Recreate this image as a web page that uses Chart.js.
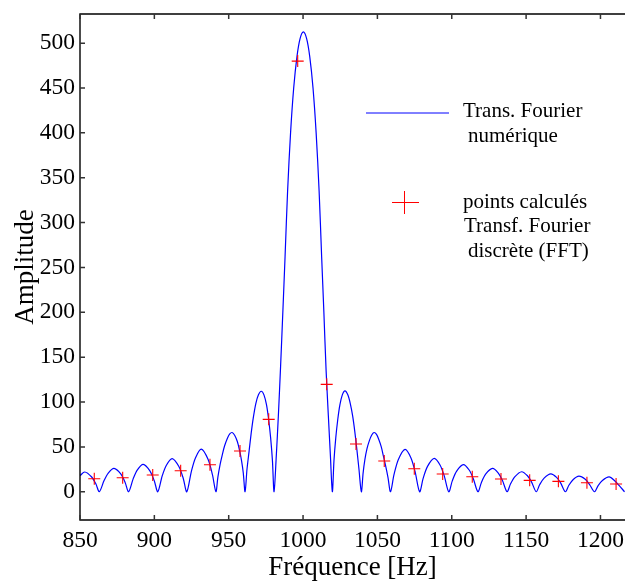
<!DOCTYPE html>
<html>
<head>
<meta charset="utf-8">
<script src="https://cdn.jsdelivr.net/npm/chart.js@4.4.1/dist/chart.umd.min.js"></script>
<style>
  html, body { margin: 0; padding: 0; background: #fff; }
  #wrap { width: 625px; height: 581px; }
</style>
</head>
<body>
<div id="wrap"><canvas id="spectre" width="625" height="581"></canvas></div>
<script>
// Transformée de Fourier numérique (courbe continue)
const freqTF = [
  850, 853.2, 857.7, 860.65, 863.0,
  866.2, 869.0, 872.9, 877.4, 880.35, 882.7,
  885.8, 888.6, 892.5, 897.0, 899.95, 902.3,
  905.3, 908.1, 912.0, 916.5, 919.45, 921.8,
  924.9, 927.7, 931.6, 936.1, 939.05, 941.4,
  942.7, 944.3, 945.8, 947.2, 949.2, 950.7, 952.3, 954.0, 955.8, 957.3, 958.6, 959.8, 961.0,
  962.3, 963.7, 965.1, 966.5, 968.2, 970.0, 971.9, 973.7, 975.4, 976.9, 978.2, 979.4, 980.5,
  982, 983.4, 984.9, 986.4, 987.9, 989.6, 991.6, 993.7, 995.9, 998, 1000.2,
  1002.4, 1004.5, 1006.7, 1008.8, 1010.8, 1012.5, 1014.0, 1015.5, 1017.0, 1018.4, 1019.7,
  1020.8, 1022.0, 1023.3, 1024.8, 1026.4, 1028.2, 1030.1, 1031.8, 1033.4, 1034.8, 1036.2, 1037.6, 1039.2,
  1040.4, 1041.6, 1043.0, 1044.6, 1046.1, 1047.7, 1049.4, 1051.0, 1052.6, 1054.0, 1055.5, 1057.1, 1058.8,
  1061.15, 1064.1, 1068.6, 1072.5, 1075.3, 1078.4,
  1080.75, 1083.7, 1088.2, 1092.1, 1094.9, 1098.0,
  1100.35, 1103.3, 1107.8, 1111.7, 1114.5, 1117.6,
  1119.95, 1122.9, 1127.4, 1131.3, 1134.1, 1137.2,
  1139.55, 1142.5, 1147.0, 1150.9, 1153.7, 1156.8,
  1159.15, 1162.1, 1166.6, 1170.5, 1173.3, 1176.4,
  1178.75, 1181.7, 1185.5, 1189.8, 1192.7, 1196.0,
  1198.35, 1201.3, 1205.8, 1209.7, 1212.5, 1216.2
];
const ampTF = [
  18, 22, 16.7, 8.8, 0,
  12.5, 20.8, 26, 19.8, 10.4, 0,
  14.6, 24.4, 30.5, 23.2, 12.2, 0,
  17.8, 29.6, 37, 28.1, 14.8, 0,
  22.8, 38, 47.5, 36.1, 19, 0,
  16, 31, 42, 51, 60, 64.5, 66, 63, 56, 46, 35, 21, 0,
  25, 45, 65, 82, 98, 108, 112, 108, 97, 80, 60, 35, 0,
  40, 85, 140, 200, 262, 335, 400, 450, 485, 505, 512.5,
  505, 485, 450, 400, 335, 262, 200, 135, 85, 40, 0,
  35, 60, 80, 97, 108, 112.5, 108, 98, 84, 67, 47, 25, 0,
  21, 36, 48, 57, 63, 66, 64, 58, 50, 40, 29, 16, 0,
  19, 36, 47.3, 38, 22.7, 0,
  14.9, 28.3, 37.2, 29.8, 17.9, 0,
  12.1, 23, 30.2, 24.2, 14.5, 0,
  10.4, 19.8, 26, 20.8, 12.5, 0,
  8.9, 16.9, 22.3, 17.8, 10.7, 0,
  8, 15.2, 20, 16, 9.6, 0,
  7.2, 13.7, 17.5, 14, 8, 0,
  6.6, 12.5, 16.5, 12, 7, 0
];

// points calculés par FFT
const freqFFT = [859.6, 878.7, 898.9, 917.7, 937.4, 957.6, 976.9, 996.4, 1015.9, 1035.6,
  1054.6, 1074.8, 1093.9, 1113.8, 1133.1, 1152.4, 1171.7, 1190.9, 1210.5];
const ampFFT = [14.5, 15.6, 18.6, 23.4, 30.1, 45.4, 80.7, 480, 119.7, 53.2,
  34.2, 25.6, 19.7, 16.7, 14.2, 12.7, 11.6, 10.0, 8.6];

const xTicks = [850, 900, 950, 1000, 1050, 1100, 1150, 1200];
const yTicks = [0, 50, 100, 150, 200, 250, 300, 350, 400, 450, 500];

const legendLine = ["Trans. Fourier", "numérique"];
const legendPts = ["points calculés", "Transf. Fourier", "discrète (FFT)"];

const serif = "'Liberation Serif', 'Times New Roman', Times, serif";

// cadre façon Matlab : axes en boîte, graduations vers l'intérieur, légende libre
const cadre = {
  id: 'cadre',
  afterDraw(chart) {
    const { ctx, chartArea: a, scales: { x, y } } = chart;
    ctx.save();
    ctx.strokeStyle = '#000';
    ctx.lineWidth = 1.4;
    ctx.beginPath();
    ctx.moveTo(a.right + 2, a.top);
    ctx.lineTo(a.left, a.top);
    ctx.lineTo(a.left, a.bottom);
    ctx.lineTo(a.right + 2, a.bottom);
    ctx.stroke();

    ctx.lineWidth = 1.5;
    ctx.strokeStyle = '#333';
    ctx.beginPath();
    xTicks.forEach(v => {
      const px = x.getPixelForValue(v);
      ctx.moveTo(px, a.bottom); ctx.lineTo(px, a.bottom - 5);
      ctx.moveTo(px, a.top); ctx.lineTo(px, a.top + 5);
    });
    yTicks.forEach(v => {
      const py = y.getPixelForValue(v);
      ctx.moveTo(a.left, py); ctx.lineTo(a.left + 5, py);
    });
    ctx.stroke();

    // légende
    ctx.strokeStyle = '#0000ff';
    ctx.lineWidth = 1;
    ctx.beginPath();
    ctx.moveTo(366, 113); ctx.lineTo(449, 113);
    ctx.stroke();

    ctx.strokeStyle = '#ff0000';
    ctx.beginPath();
    ctx.moveTo(392, 202.5); ctx.lineTo(419, 202.5);
    ctx.moveTo(404.5, 191); ctx.lineTo(404.5, 214);
    ctx.stroke();

    ctx.fillStyle = '#000';
    ctx.font = '21px ' + serif;
    ctx.textAlign = 'left';
    ctx.textBaseline = 'alphabetic';
    ctx.fillText(legendLine[0], 463, 117);
    ctx.fillText(legendLine[1], 468, 142);
    ctx.fillText(legendPts[0], 463, 208);
    ctx.fillText(legendPts[1], 464, 232);
    ctx.fillText(legendPts[2], 468, 257);
    ctx.restore();
  }
};

new Chart(document.getElementById('spectre'), {
  type: 'scatter',
  data: {
    datasets: [
      {
        label: 'points calculés',
        data: freqFFT.map((f, i) => ({ x: f, y: ampFFT[i] })),
        pointStyle: 'cross',
        pointRadius: 6,
        borderColor: '#ff0000',
        backgroundColor: '#ff0000',
        borderWidth: 1.1,
        order: 0
      },
      {
        type: 'line',
        label: 'Trans. Fourier numérique',
        data: freqTF.map((f, i) => ({ x: f, y: ampTF[i] })),
        borderColor: '#0000ff',
        borderWidth: 1.2,
        pointRadius: 0,
        tension: 0.3,
        fill: false,
        order: 1
      }
    ]
  },
  options: {
    responsive: false,
    animation: false,
    layout: { autoPadding: false, padding: { top: 14, right: 0, left: 0, bottom: 0 } },
    plugins: {
      legend: { display: false },
      tooltip: { enabled: false }
    },
    scales: {
      x: {
        type: 'linear',
        min: 850,
        max: 1216.5,
        afterBuildTicks: s => { s.ticks = xTicks.map(v => ({ value: v })); },
        afterFit: s => { s.height = 61; s.paddingLeft = 0; s.paddingRight = 0; },
        ticks: {
          color: '#000',
          font: { family: serif, size: 23.5 },
          padding: 7,
          maxRotation: 0,
          autoSkip: false,
          callback: v => String(v)
        },
        grid: { display: false, drawTicks: false },
        border: { display: false },
        title: {
          display: true,
          text: 'Fréquence [Hz]',
          color: '#000',
          font: { family: serif, size: 27, lineHeight: 1 },
          padding: 0
        }
      },
      y: {
        min: -31.5,
        max: 532.5,
        afterBuildTicks: s => { s.ticks = yTicks.map(v => ({ value: v })); },
        afterFit: s => { s.width = 80; s.paddingTop = 0; s.paddingBottom = 0; },
        ticks: {
          color: '#000',
          font: { family: serif, size: 23.5 },
          padding: 5,
          callback: v => String(v)
        },
        grid: { display: false, drawTicks: false },
        border: { display: false },
        title: {
          display: true,
          text: 'Amplitude',
          color: '#000',
          font: { family: serif, size: 27, lineHeight: 1 },
          padding: { top: 12, bottom: 0 }
        }
      }
    }
  },
  plugins: [cadre]
});
</script>
</body>
</html>
